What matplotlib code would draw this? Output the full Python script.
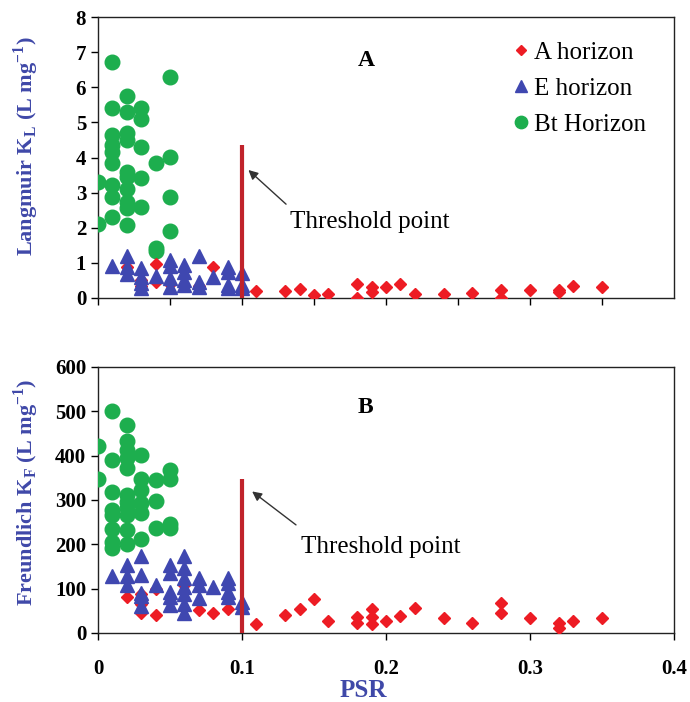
import matplotlib
matplotlib.use('Agg')
import matplotlib.pyplot as plt
import numpy as np

plt.rcParams['font.family'] = ['Liberation Serif', 'DejaVu Serif']

# --- Panel A: Langmuir KL ---
a_hor_x_A = [0.02, 0.03, 0.03, 0.04, 0.04, 0.05, 0.06, 0.07, 0.08, 0.11,
             0.13, 0.14, 0.15, 0.16, 0.18, 0.18, 0.19, 0.19, 0.20, 0.21,
             0.22, 0.24, 0.26, 0.28, 0.28, 0.30, 0.32, 0.32, 0.33, 0.35]
a_hor_y_A = [0.89, 0.50, 0.35, 0.97, 0.46, 0.40, 0.35, 0.35, 0.89, 0.21,
             0.21, 0.27, 0.09, 0.11, 0.40, 0.00, 0.30, 0.17, 0.30, 0.40,
             0.11, 0.11, 0.13, 0.23, 0.00, 0.23, 0.23, 0.17, 0.34, 0.30]

e_hor_x_A = [0.01, 0.02, 0.02, 0.02, 0.03, 0.03, 0.03, 0.03, 0.04, 0.05,
             0.05, 0.05, 0.05, 0.06, 0.06, 0.06, 0.06, 0.07, 0.07, 0.07,
             0.08, 0.09, 0.09, 0.09, 0.09, 0.10, 0.10, 0.10]
e_hor_y_A = [0.92, 1.20, 0.89, 0.68, 0.85, 0.61, 0.42, 0.28, 0.63, 1.08,
             0.91, 0.56, 0.32, 0.94, 0.75, 0.51, 0.37, 1.20, 0.46, 0.30,
             0.61, 0.89, 0.75, 0.37, 0.28, 0.70, 0.37, 0.28]

bt_hor_x_A = [0.01, 0.05, 0.02, 0.01, 0.02, 0.03, 0.03, 0.01, 0.02, 0.02,
              0.01, 0.01, 0.03, 0.01, 0.05, 0.04, 0.02, 0.02, 0.03, 0.00,
              0.01, 0.01, 0.02, 0.02, 0.02, 0.03, 0.05, 0.01, 0.00, 0.02,
              0.05, 0.04, 0.04]
bt_hor_y_A = [6.71, 6.30, 5.75, 5.40, 5.31, 5.40, 5.10, 4.64, 4.71, 4.50,
              4.36, 4.17, 4.29, 3.84, 4.03, 3.84, 3.60, 3.46, 3.41, 3.31,
              3.22, 2.89, 3.10, 2.74, 2.55, 2.60, 2.89, 2.32, 2.11, 2.08,
              1.92, 1.42, 1.33]

# --- Panel B: Freundlich KF ---
a_hor_x_B = [0.02, 0.03, 0.03, 0.03, 0.04, 0.04, 0.06, 0.07, 0.08, 0.09,
             0.11, 0.13, 0.14, 0.15, 0.16, 0.18, 0.18, 0.19, 0.19, 0.19,
             0.20, 0.21, 0.22, 0.24, 0.26, 0.28, 0.28, 0.30, 0.32, 0.32,
             0.33, 0.35]
a_hor_y_B = [82, 87, 65, 44, 99, 41, 108, 52, 46, 53,
             20, 41, 53, 76, 28, 37, 22, 53, 36, 21,
             28, 38, 56, 33, 23, 68, 46, 33, 22, 11,
             26, 33]

e_hor_x_B = [0.01, 0.02, 0.02, 0.02, 0.03, 0.03, 0.03, 0.03, 0.03, 0.04,
             0.05, 0.05, 0.05, 0.05, 0.05, 0.06, 0.06, 0.06, 0.06, 0.06,
             0.06, 0.06, 0.07, 0.07, 0.07, 0.08, 0.09, 0.09, 0.09, 0.09,
             0.10, 0.10]
e_hor_y_B = [129, 153, 129, 108, 174, 131, 91, 83, 61, 108,
             153, 135, 93, 82, 63, 174, 146, 123, 104, 89,
             66, 44, 123, 108, 78, 104, 125, 112, 93, 82,
             71, 59]

bt_hor_x_B = [0.01, 0.02, 0.00, 0.02, 0.02, 0.01, 0.02, 0.03, 0.02, 0.00,
              0.03, 0.04, 0.05, 0.05, 0.03, 0.01, 0.02, 0.02, 0.04, 0.03,
              0.01, 0.02, 0.01, 0.03, 0.02, 0.01, 0.02, 0.04, 0.05, 0.05,
              0.01, 0.01, 0.02, 0.03]
bt_hor_y_B = [501, 469, 422, 432, 413, 390, 394, 402, 371, 347,
              347, 344, 368, 347, 323, 319, 311, 296, 298, 293,
              277, 281, 266, 270, 266, 234, 232, 236, 246, 236,
              206, 191, 201, 211]

threshold = 0.1

red = '#ED1C24'
blue = '#3F47B0'
green = '#1DAE4E'
line_red = '#C0232B'
label_blue = '#3F48A8'

fig = plt.figure(figsize=(6.9, 7.02), dpi=100)
ax1 = fig.add_axes([0.142, 0.5755, 0.835, 0.400])
ax2 = fig.add_axes([0.142, 0.0983, 0.835, 0.379])


def draw_panel(ax, ax_x, ax_y, ex, ey, bx, by):
    ax.plot(bx, by, 'o', color=green, ms=10.5, mec=green, label='Bt Horizon', zorder=3)
    ax.plot(ax_x, ax_y, 'D', color=red, ms=6.5, mec=red, label='A horizon', zorder=4)
    ax.plot(ex, ey, '^', color=blue, ms=9.5, mec=blue, label='E horizon', zorder=5)
    ax.set_xlim(0, 0.4)
    ax.tick_params(direction='out', length=5, width=1, labelsize=15)
    for s in ax.spines.values():
        s.set_linewidth(1)
        s.set_color('#222222')


draw_panel(ax1, a_hor_x_A, a_hor_y_A, e_hor_x_A, e_hor_y_A, bt_hor_x_A, bt_hor_y_A)
ax1.set_ylim(0, 8)
ax1.set_yticks(np.arange(0, 9, 1))
ax1.set_xticks(np.arange(0, 0.4, 0.05))
ax1.set_xticklabels([])
for lab in ax1.get_yticklabels():
    lab.set_fontweight('bold')
ax1.vlines(threshold, 0, 4.36, color=line_red, lw=3, zorder=6)
ax1.annotate('', xy=(0.103, 3.70), xytext=(0.132, 2.62),
             arrowprops=dict(arrowstyle='-|>', color='#333333', lw=1, mutation_scale=14))
ax1.text(0.133, 2.17, 'Threshold point', fontsize=18, va='center', ha='left')
ax1.text(0.186, 6.78, 'A', fontsize=17, fontweight='bold', ha='center', va='center')
ax1.set_ylabel('Langmuir K$_\\mathregular{L}$ (L mg$^\\mathregular{-1}$)', fontsize=16,
               fontweight='bold', color=label_blue, va='center')
ax1.yaxis.set_label_coords(-0.125, 0.54)

handles, labels = ax1.get_legend_handles_labels()
order = [1, 2, 0]
leg = ax1.legend([handles[i] for i in order], [labels[i] for i in order],
                 loc='upper left', bbox_to_anchor=(0.722, 0.915), frameon=False,
                 fontsize=18, handlelength=0.6, handletextpad=0.2, labelspacing=0.55,
                 borderaxespad=0, borderpad=0, markerscale=0.85)

draw_panel(ax2, a_hor_x_B, a_hor_y_B, e_hor_x_B, e_hor_y_B, bt_hor_x_B, bt_hor_y_B)
ax2.set_ylim(0, 600)
ax2.set_yticks(np.arange(0, 700, 100))
ax2.set_xticks([0, 0.1, 0.2, 0.3, 0.4])
ax2.set_xticklabels(['0', '0.1', '0.2', '0.3', '0.4'])
ax2.tick_params(axis='x', pad=14)
for lab in ax2.get_yticklabels() + ax2.get_xticklabels():
    lab.set_fontweight('bold')
ax2.vlines(threshold, 0, 347, color=line_red, lw=3, zorder=6)
ax2.annotate('', xy=(0.1055, 323), xytext=(0.139, 240),
             arrowprops=dict(arrowstyle='-|>', color='#333333', lw=1, mutation_scale=14))
ax2.text(0.141, 194, 'Threshold point', fontsize=18, va='center', ha='left')
ax2.text(0.186, 508, 'B', fontsize=17, fontweight='bold', ha='center', va='center')
ax2.set_ylabel('Freundlich K$_\\mathregular{F}$ (L mg$^\\mathregular{-1}$)', fontsize=16,
               fontweight='bold', color=label_blue, va='center')
ax2.yaxis.set_label_coords(-0.125, 0.53)
ax2.set_xlabel('PSR', fontsize=18, fontweight='bold', color=label_blue, va='center')
ax2.xaxis.set_label_coords(0.46, -0.215)

fig.savefig('out.png', dpi=100)
